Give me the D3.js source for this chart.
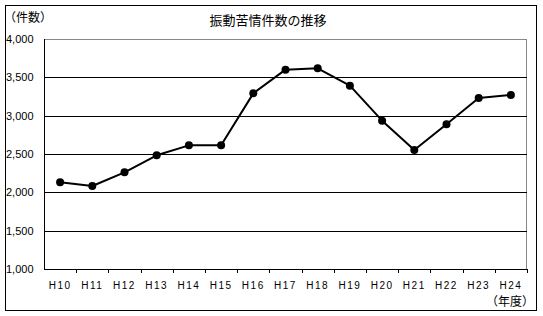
<!DOCTYPE html>
<html><head><meta charset="utf-8">
<script src="https://cdn.jsdelivr.net/npm/d3@7"></script>
<style>body{margin:0;background:#fff}svg{display:block}</style>
</head><body>
<script>
const categories = ["H10","H11","H12","H13","H14","H15","H16","H17","H18","H19","H20","H21","H22","H23","H24"];
const values = [2130,2083,2261,2483,2613,2613,3291,3600,3617,3391,2935,2552,2887,3230,3270];
const yTicks = [1000,1500,2000,2500,3000,3500,4000];
const titleText = "振動苦情件数の推移";
const yUnit = "（件数）";
const xUnit = "（年度）";

const W = 543, H = 316;
const svg = d3.select("body").append("svg").attr("width", W).attr("height", H);
const jp = "'Noto Sans CJK JP', sans-serif";
const num = "'Liberation Sans', Arial, sans-serif";

svg.append("rect").attr("x",5.5).attr("y",5.5).attr("width",531).attr("height",305)
  .attr("fill","#fff").attr("stroke","#000").attr("stroke-width",1);

const L = 44, R = 527, T = 39, B = 269;
const x = d3.scaleBand().domain(categories).range([L, R]);
const y = d3.scaleLinear().domain([1000, 4000]).range([B, T]);

// plot border (gray)
svg.append("rect").attr("x",L+0.5).attr("y",T+0.5).attr("width",R-L-1).attr("height",B-T)
  .attr("fill","none").attr("stroke","#888").attr("stroke-width",1);

// gridlines
svg.append("g").selectAll("line").data(yTicks.filter(d => d > 1000 && d < 4000)).join("line")
  .attr("x1", L).attr("x2", R)
  .attr("y1", d => Math.round(y(d)) + 0.5).attr("y2", d => Math.round(y(d)) + 0.5)
  .attr("stroke", "#000").attr("stroke-width", 1);

// y labels
svg.append("g").selectAll("text").data(yTicks).join("text")
  .attr("x", 6).attr("y", d => y(d) + 4)
  .attr("font-family", num).attr("font-size", 11).attr("fill","#000")
  .text(d => d3.format(",")(d));

// left axis
svg.append("line").attr("x1",L+0.5).attr("x2",L+0.5).attr("y1",T).attr("y2",B+0.5)
  .attr("stroke","#000");
// bottom axis
const xAxis = d3.axisBottom(x).tickSize(0).tickFormat("");
const gx = svg.append("g").attr("transform", `translate(0,${B + 0.5})`).call(xAxis);
gx.select(".domain").remove();
svg.append("line").attr("x1",L).attr("x2",R).attr("y1",B+0.5).attr("y2",B+0.5).attr("stroke","#000");
// boundary ticks
const bounds = categories.map(c => x(c)).concat([R]).slice(1);
svg.append("g").selectAll("line").data(bounds).join("line")
  .attr("x1", d => Math.round(d)+0.5).attr("x2", d => Math.round(d)+0.5)
  .attr("y1", B).attr("y2", B + 4).attr("stroke","#000");
// x labels
svg.append("g").selectAll("text").data(categories).join("text")
  .attr("x", d => x(d) + x.bandwidth()/2).attr("y", 289)
  .attr("text-anchor","middle").attr("font-family", num).attr("font-size", 10)
  .attr("letter-spacing", 1.5)
  .text(d => d);

// line
const line = d3.line().x((d,i) => x(categories[i]) + x.bandwidth()/2).y(d => y(d));
svg.append("path").datum(values).attr("d", line).attr("fill","none")
  .attr("stroke","#000").attr("stroke-width",2).attr("stroke-linejoin","round");
svg.append("g").selectAll("circle").data(values).join("circle")
  .attr("cx", (d,i) => x(categories[i]) + x.bandwidth()/2).attr("cy", d => y(d))
  .attr("r", 4).attr("fill","#000");

// texts
svg.append("text").attr("x", 268).attr("y", 25).attr("text-anchor","middle")
  .attr("font-family", jp).attr("font-size", 13).text(titleText);
svg.append("text").attr("x", 4).attr("y", 22)
  .attr("font-family", jp).attr("font-size", 12).text(yUnit);
svg.append("text").attr("x", 534).attr("y", 306).attr("text-anchor","end")
  .attr("font-family", jp).attr("font-size", 12).text(xUnit);
</script>
</body></html>
